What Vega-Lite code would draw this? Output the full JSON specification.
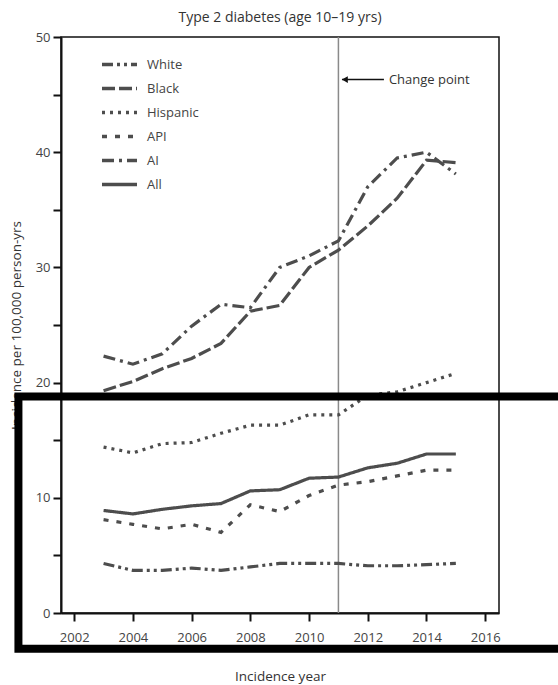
{
  "$schema": "https://vega.github.io/schema/vega-lite/v6.json",
  "autosize": {"type": "none"},
  "padding": {"left": 61, "top": 37, "right": 59, "bottom": 72},
  "width": 438,
  "height": 576,
  "background": "white",
  "title": {"text": "Type 2 diabetes (age 10–19 yrs)", "font": "Open Sans", "fontSize": 14, "fontWeight": "normal", "color": "#333333", "offset": 6},
  "config": {
    "view": {"stroke": "#111111", "strokeWidth": 1.5},
    "axis": {"labelFont": "Open Sans", "titleFont": "Open Sans", "labelFontSize": 13, "titleFontSize": 13.5, "labelColor": "#444444", "titleColor": "#333333", "titleFontWeight": "normal", "domainColor": "#111111", "domainWidth": 2, "tickColor": "#111111", "tickWidth": 2, "tickSize": 8, "grid": false},
    "legend": {"labelFont": "Open Sans", "labelFontSize": 13, "labelColor": "#444444"}
  },
  "datasets": {
    "series": [
      {"year": 2003, "group": "White", "value": 4.3}, {"year": 2004, "group": "White", "value": 3.7}, {"year": 2005, "group": "White", "value": 3.7}, {"year": 2006, "group": "White", "value": 3.9}, {"year": 2007, "group": "White", "value": 3.7}, {"year": 2008, "group": "White", "value": 4.0}, {"year": 2009, "group": "White", "value": 4.3}, {"year": 2010, "group": "White", "value": 4.3}, {"year": 2011, "group": "White", "value": 4.3}, {"year": 2012, "group": "White", "value": 4.1}, {"year": 2013, "group": "White", "value": 4.1}, {"year": 2014, "group": "White", "value": 4.2}, {"year": 2015, "group": "White", "value": 4.3},
      {"year": 2003, "group": "Black", "value": 19.3}, {"year": 2004, "group": "Black", "value": 20.1}, {"year": 2005, "group": "Black", "value": 21.2}, {"year": 2006, "group": "Black", "value": 22.1}, {"year": 2007, "group": "Black", "value": 23.4}, {"year": 2008, "group": "Black", "value": 26.2}, {"year": 2009, "group": "Black", "value": 26.7}, {"year": 2010, "group": "Black", "value": 30.0}, {"year": 2011, "group": "Black", "value": 31.5}, {"year": 2012, "group": "Black", "value": 33.6}, {"year": 2013, "group": "Black", "value": 36.0}, {"year": 2014, "group": "Black", "value": 39.3}, {"year": 2015, "group": "Black", "value": 39.1},
      {"year": 2003, "group": "Hispanic", "value": 14.4}, {"year": 2004, "group": "Hispanic", "value": 13.9}, {"year": 2005, "group": "Hispanic", "value": 14.7}, {"year": 2006, "group": "Hispanic", "value": 14.8}, {"year": 2007, "group": "Hispanic", "value": 15.6}, {"year": 2008, "group": "Hispanic", "value": 16.3}, {"year": 2009, "group": "Hispanic", "value": 16.3}, {"year": 2010, "group": "Hispanic", "value": 17.2}, {"year": 2011, "group": "Hispanic", "value": 17.2}, {"year": 2012, "group": "Hispanic", "value": 18.9}, {"year": 2013, "group": "Hispanic", "value": 19.2}, {"year": 2014, "group": "Hispanic", "value": 20.0}, {"year": 2015, "group": "Hispanic", "value": 20.8},
      {"year": 2003, "group": "API", "value": 8.1}, {"year": 2004, "group": "API", "value": 7.7}, {"year": 2005, "group": "API", "value": 7.3}, {"year": 2006, "group": "API", "value": 7.7}, {"year": 2007, "group": "API", "value": 7.0}, {"year": 2008, "group": "API", "value": 9.4}, {"year": 2009, "group": "API", "value": 8.8}, {"year": 2010, "group": "API", "value": 10.2}, {"year": 2011, "group": "API", "value": 11.1}, {"year": 2012, "group": "API", "value": 11.4}, {"year": 2013, "group": "API", "value": 11.9}, {"year": 2014, "group": "API", "value": 12.4}, {"year": 2015, "group": "API", "value": 12.4},
      {"year": 2003, "group": "AI", "value": 22.3}, {"year": 2004, "group": "AI", "value": 21.6}, {"year": 2005, "group": "AI", "value": 22.5}, {"year": 2006, "group": "AI", "value": 24.9}, {"year": 2007, "group": "AI", "value": 26.8}, {"year": 2008, "group": "AI", "value": 26.5}, {"year": 2009, "group": "AI", "value": 30.0}, {"year": 2010, "group": "AI", "value": 31.0}, {"year": 2011, "group": "AI", "value": 32.3}, {"year": 2012, "group": "AI", "value": 37.0}, {"year": 2013, "group": "AI", "value": 39.5}, {"year": 2014, "group": "AI", "value": 40.0}, {"year": 2015, "group": "AI", "value": 38.1},
      {"year": 2003, "group": "All", "value": 8.9}, {"year": 2004, "group": "All", "value": 8.6}, {"year": 2005, "group": "All", "value": 9.0}, {"year": 2006, "group": "All", "value": 9.3}, {"year": 2007, "group": "All", "value": 9.5}, {"year": 2008, "group": "All", "value": 10.6}, {"year": 2009, "group": "All", "value": 10.7}, {"year": 2010, "group": "All", "value": 11.7}, {"year": 2011, "group": "All", "value": 11.8}, {"year": 2012, "group": "All", "value": 12.6}, {"year": 2013, "group": "All", "value": 13.0}, {"year": 2014, "group": "All", "value": 13.8}, {"year": 2015, "group": "All", "value": 13.8}
    ],
    "changepoint": [{"year": 2011}],
    "arrow": [{"x1": 2011.12, "x2": 2012.55, "y": 46.3, "head": 2011.22, "label": "Change point", "tx": 2012.72}],
    "box": [{"x1": 2000.1, "x2": 2020, "y1": 18.8, "y2": -3.1}]
  },
  "layer": [
    {
      "data": {"name": "changepoint"},
      "mark": {"type": "rule", "color": "#8a8a8a", "strokeWidth": 1.5},
      "encoding": {
        "x": {"field": "year", "type": "quantitative", "scale": {"domain": [2001.55, 2016.47], "nice": false, "zero": false},
              "axis": {"values": [2002, 2004, 2006, 2008, 2010, 2012, 2014, 2016], "format": "d", "title": "Incidence year", "labelPadding": 10, "titlePadding": 25}},
        "y": {"datum": 0, "type": "quantitative"},
        "y2": {"datum": 50}
      }
    },
    {
      "data": {"name": "series"},
      "mark": {"type": "line", "color": "#4d4d4d", "strokeWidth": 3.2},
      "encoding": {
        "x": {"field": "year", "type": "quantitative"},
        "y": {"field": "value", "type": "quantitative", "scale": {"domain": [0, 50], "nice": false},
              "axis": {"values": [0, 5, 10, 15, 20, 25, 30, 35, 40, 45, 50], "labelExpr": "datum.value % 10 === 0 ? datum.label : ''", "title": "Incidence per 100,000 person-yrs", "labelPadding": 3, "titlePadding": 12}},
        "strokeDash": {"field": "group", "type": "nominal",
          "scale": {"domain": ["White", "Black", "Hispanic", "API", "AI", "All"], "range": [[11, 4, 3, 4, 3, 4], [13, 4], [3, 5], [5, 8], [12, 5, 3, 5], [1, 0]]},
          "legend": {"title": null, "orient": "none", "legendX": 44, "legendY": 13, "symbolType": "M-1.4,0H1.4", "symbolSize": 625, "symbolStrokeWidth": 3.5, "symbolStrokeColor": "#4d4d4d", "symbolFillColor": "transparent", "labelOffset": 13, "rowPadding": 2}}
      }
    },
    {
      "data": {"name": "arrow"},
      "mark": {"type": "rule", "color": "#111111", "strokeWidth": 1.5},
      "encoding": {
        "x": {"field": "x1", "type": "quantitative"},
        "x2": {"field": "x2"},
        "y": {"field": "y", "type": "quantitative"}
      }
    },
    {
      "data": {"name": "arrow"},
      "mark": {"type": "point", "shape": "triangle-left", "filled": true, "color": "#111111", "size": 45, "opacity": 1},
      "encoding": {
        "x": {"field": "head", "type": "quantitative"},
        "y": {"field": "y", "type": "quantitative"}
      }
    },
    {
      "data": {"name": "arrow"},
      "mark": {"type": "text", "align": "left", "baseline": "middle", "font": "Open Sans", "fontSize": 13, "color": "#333333"},
      "encoding": {
        "x": {"field": "tx", "type": "quantitative"},
        "y": {"field": "y", "type": "quantitative"},
        "text": {"field": "label"}
      }
    },
    {
      "data": {"name": "box"},
      "mark": {"type": "rect", "fill": null, "fillOpacity": 0, "stroke": "#000000", "strokeWidth": 8},
      "encoding": {
        "x": {"field": "x1", "type": "quantitative"},
        "x2": {"field": "x2"},
        "y": {"field": "y1", "type": "quantitative"},
        "y2": {"field": "y2"}
      }
    }
  ]
}
